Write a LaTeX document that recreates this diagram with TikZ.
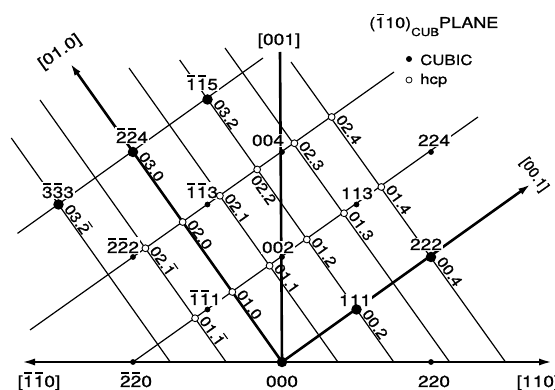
\documentclass[tikz,border=0pt]{standalone}
\usepackage{fontspec}
\setmainfont{TeX Gyre Heros}
\newfontfamily\numf[FakeStretch=1.2,FakeBold=1]{TeX Gyre Heros}
\newfontfamily\hcpf[FakeStretch=1.1,FakeBold=1]{TeX Gyre Heros}
\newfontfamily\plainf[FakeBold=1]{TeX Gyre Heros}
\usetikzlibrary{arrows.meta}
\newcommand\ovl[1]{\makebox[0pt][l]{\hspace{0.09em}\rule[0.84em]{0.48em}{0.07em}}#1}
\begin{document}
\begin{tikzpicture}[x=1pt,y=-1pt,
  gridln/.style={line width=1.2pt},
  axisln/.style={line width=2.6pt},
  tipstyle/.style={-{Latex[length=13pt,width=7pt]}},
  bigdot/.style={circle,fill=black,inner sep=0pt,minimum size=10.5pt},
  smalldot/.style={circle,fill=black,inner sep=0pt,minimum size=5.8pt},
  hcpdot/.style={circle,draw=black,fill=white,line width=0.9pt,inner sep=0pt,minimum size=6.8pt},
  clab/.style={font=\numf\fontsize{16}{16}\selectfont,fill=white,inner sep=1pt,anchor=base},
  hlab/.style={font=\hcpf\fontsize{15}{15}\selectfont,rotate=-54.64,anchor=south west,inner xsep=4pt,inner ysep=1pt},
  leg/.style={font=\numf\fontsize{14}{14}\selectfont,anchor=base west,inner sep=0pt}]
\useasboundingbox (0,0) rectangle (555,390);
% cubic lattice points
\coordinate (c000) at (282,362);
\coordinate (c220) at (431,362);
\coordinate (cbb0) at (133,362);
\coordinate (cbb1) at (207.5,309.5);
\coordinate (c111) at (356.5,309.5);
\coordinate (cbb2) at (133,257);
\coordinate (c002) at (282,257);
\coordinate (c222) at (431,257);
\coordinate (cbbb3) at (58.5,204.5);
\coordinate (cbb3) at (207.5,204.5);
\coordinate (c113) at (356.5,204.5);
\coordinate (cbb4) at (133,152);
\coordinate (c004) at (282,152);
\coordinate (c224) at (431,152);
\coordinate (cbb5) at (207.5,99.5);
% hcp points
\coordinate (h1m1) at (195.08,318.25);
\coordinate (h10) at (232.33,292);
\coordinate (h11) at (269.58,265.75);
\coordinate (h12) at (306.83,239.5);
\coordinate (h13) at (344.08,213.25);
\coordinate (h14) at (381.33,187);
\coordinate (h2m1) at (145.42,248.25);
\coordinate (h20) at (182.67,222);
\coordinate (h21) at (219.92,195.75);
\coordinate (h22) at (257.17,169.5);
\coordinate (h23) at (294.42,143.25);
\coordinate (h24) at (331.67,117);
% free ends
\coordinate (eL) at (21,362);
\coordinate (eR) at (553,362);
\coordinate (e001) at (280,52);
\coordinate (e00a) at (531,184);
\coordinate (e010) at (70,63);
\coordinate (m1t) at (478,117);
\coordinate (m2b) at (30,330);
\coordinate (m2t) at (394,72);
\coordinate (m3b) at (17.5,233.4);
\coordinate (m3t) at (263,58);
\coordinate (nm2b) at (170.25,362);
\coordinate (nm2t) at (11.3,138);
\coordinate (nm1b) at (226.1,362);
\coordinate (nm1t) at (40,100);
\coordinate (n1b) at (337.9,362);
\coordinate (n1t) at (129,68);
\coordinate (n2b) at (393.75,362);
\coordinate (n2t) at (179.7,60);
\coordinate (n3b) at (449.6,362);
\coordinate (n3t) at (225,48);
\coordinate (n4b) at (505.5,362);
\coordinate (n4t) at (291,62);
% thin lattice lines
\draw[gridln] (cbb0) -- (m1t);
\draw[gridln] (m2b) -- (m2t);
\draw[gridln] (m3b) -- (m3t);
\draw[gridln] (nm2b) -- (nm2t);
\draw[gridln] (nm1b) -- (nm1t);
\draw[gridln] (n1b) -- (n1t);
\draw[gridln] (n2b) -- (n2t);
\draw[gridln] (n3b) -- (n3t);
\draw[gridln] (n4b) -- (n4t);
% axes
\draw[axisln,{Latex[length=14pt,width=7pt]}-{Latex[length=14pt,width=7pt]}] (eL) -- (eR);
\draw[axisln] (c000) -- (e001);
\draw[axisln,tipstyle] (c000) -- (e00a);
\draw[axisln,tipstyle] (c000) -- (e010);
% axis labels
\node[clab,fill=none] (l001) at (279,45) {[001]};
\node[clab,fill=none] (lbb0ax) at (39,387) {[\ovl{1}\ovl{1}0]};
\node[clab,fill=none] (l110ax) at (538,387) {[110]};
\node[font=\numf\fontsize{16}{16}\selectfont,rotate=35.36,inner sep=0pt] (l010) at (60,52) {[01.0]};
\node[font=\plainf\fontsize{15}{15}\selectfont,rotate=-54.64,inner sep=0pt] (l00a) at (534,175) {[00.1]};
% cubic labels
\node[clab] (t000) at (282,387) {000};
\node[clab] (t220) at (434,387) {220};
\node[clab] (tbb0) at (136,387) {\ovl{2}\ovl{2}0};
\node[clab] (tbb1) at (205,305) {\ovl{1}\ovl{1}1};
\node[clab] (t111) at (355,306) {111};
\node[clab] (t222) at (426,250) {222};
\node[clab] (tbb2) at (123,253) {\ovl{2}\ovl{2}2};
\node[clab] (t002) at (278,253) {002};
\node[clab] (tbb3) at (202,198) {\ovl{1}\ovl{1}3};
\node[clab] (t113) at (357,199) {113};
\node[clab] (t004) at (268,146) {004};
\node[clab] (t224) at (434,146) {224};
\node[clab] (tbb4) at (132,143) {\ovl{2}\ovl{2}4};
\node[clab] (tbbb3) at (58,198) {\ovl{3}\ovl{3}3};
\node[clab] (tbb5) at (202,90) {\ovl{1}\ovl{1}5};
% hcp labels
\node[hlab,inner xsep=6.5pt] (u032) at (cbb5) {03.2};
\node[hlab,inner xsep=6.5pt] (u030) at (cbb4) {03.0};
\node[hlab,inner xsep=6.5pt] (u03m2) at (cbbb3) {03.\ovl{2}};
\node[hlab] (u024) at (h24) {02.4};
\node[hlab] (u023) at (h23) {02.3};
\node[hlab,anchor=north west] (u022) at (h22) {02.2};
\node[hlab] (u021) at (h21) {02.1};
\node[hlab] (u020) at (h20) {02.0};
\node[hlab] (u02m1) at (h2m1) {02.\ovl{1}};
\node[hlab] (u014) at (h14) {01.4};
\node[hlab] (u013) at (h13) {01.3};
\node[hlab] (u012) at (h12) {01.2};
\node[hlab] (u011) at (h11) {01.1};
\node[hlab] (u010) at (h10) {01.0};
\node[hlab] (u01m1) at (h1m1) {01.\ovl{1}};
\node[hlab,inner xsep=6.5pt] (u002) at (c111) {00.2};
\node[hlab,inner xsep=6.5pt] (u004) at (c222) {00.4};
% hcp points
\foreach \p in {h1m1,h10,h11,h12,h13,h14,h2m1,h20,h21,h22,h23,h24}
  \node[hcpdot] (d\p) at (\p) {};
% cubic points
\foreach \p in {c000,c111,c222,cbbb3,cbb4,cbb5}
  \node[bigdot] (d\p) at (\p) {};
\foreach \p in {c220,cbb0,cbb1,cbb2,c002,cbb3,c113,c004,c224}
  \node[smalldot] (d\p) at (\p) {};
% legend
\node[leg,font=\numf\fontsize{15}{15}\selectfont] (title) at (369,28) {(\ovl{1}10)\raisebox{-8pt}{\fontsize{11}{11}\selectfont CUB}PLANE};
\node[circle,fill=black,inner sep=0pt,minimum size=6pt] (kcub) at (409,59) {};
\node[leg] (tcub) at (420,65) {CUBIC};
\node[circle,draw=black,line width=0.8pt,fill=white,inner sep=0pt,minimum size=6pt] (khcp) at (409,80) {};
\node[leg] (thcp) at (420,84) {hcp};
\end{tikzpicture}
\end{document}
